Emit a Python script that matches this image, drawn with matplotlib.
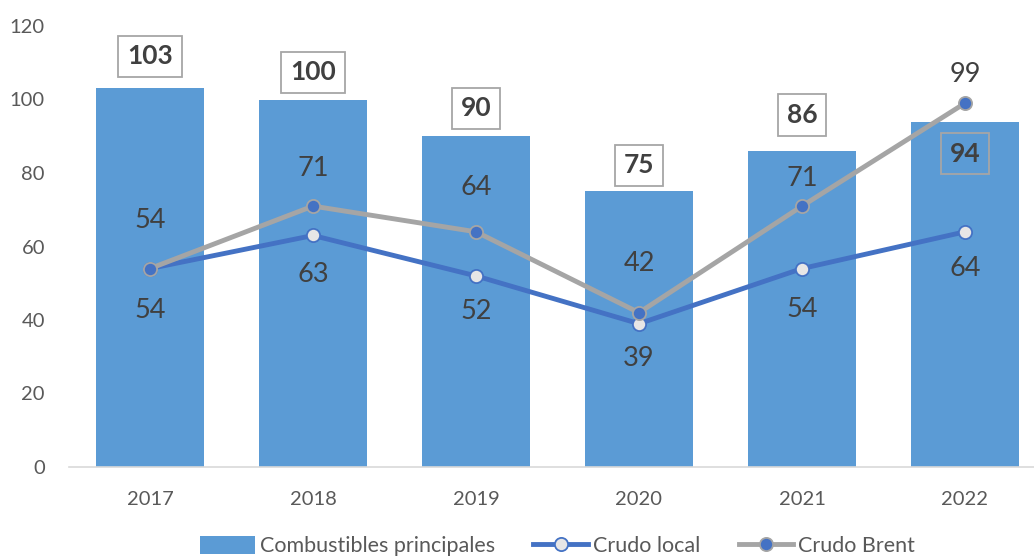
"""
Combustibles principales vs crudo local y Brent, 2017-2022.
"""

import matplotlib.pyplot as plt
import numpy as np

# --- Data ---
YEARS = ["2017", "2018", "2019", "2020", "2021", "2022"]
COMBUSTIBLES = [103, 100, 90, 75, 86, 94]
CRUDO_LOCAL = [54, 63, 52, 39, 54, 64]
CRUDO_BRENT = [54, 71, 64, 42, 71, 99]

# label offsets in pixels (positive = above the point)
BAR_LABEL_OFFSET = [32, 27, 28, 26, 36, -32]
BRENT_LABEL_OFFSET = [48, 38, 44, 49, 28, 29]
LOCAL_LABEL_OFFSET = [-42, -39, -36, -35, -41, -37]

# --- Style ---
BAR_COLOR = "#5B9BD5"
LOCAL_COLOR = "#4472C4"
BRENT_COLOR = "#A5A5A5"
TEXT_COLOR = "#404040"
TICK_COLOR = "#595959"

plt.rcParams['font.family'] = ['Lato', 'DejaVu Sans']

W, H = 1034, 558
fig = plt.figure(figsize=(W / 100, H / 100), dpi=100)
ax = fig.add_axes([68.5 / W, (H - 467) / H, 978 / W, 441 / H])

x = np.arange(len(YEARS))
px = 72 / 100  # pixels -> points

bars = ax.bar(x, COMBUSTIBLES, width=0.66, color=BAR_COLOR, label="Combustibles principales", zorder=1)
local_line, = ax.plot(x, CRUDO_LOCAL, color=LOCAL_COLOR, linewidth=3.5, marker='o', markersize=9.5,
                      markerfacecolor="#E7E6E6", markeredgecolor=LOCAL_COLOR, markeredgewidth=1.3,
                      label="Crudo local", zorder=3)
brent_line, = ax.plot(x, CRUDO_BRENT, color=BRENT_COLOR, linewidth=3.5, marker='o', markersize=9.5,
                      markerfacecolor=LOCAL_COLOR, markeredgecolor=BRENT_COLOR, markeredgewidth=1.3,
                      label="Crudo Brent", zorder=4)

# bar labels in boxes
for xi, v, off in zip(x, COMBUSTIBLES, BAR_LABEL_OFFSET):
    ax.annotate(f"{v}", (xi, v), xytext=(0, off * px), textcoords='offset points',
                ha='center', va='center', fontsize=19, fontweight='bold', color=TEXT_COLOR,
                bbox=dict(boxstyle='square,pad=0.33', facecolor='none', edgecolor='#A6A6A6', linewidth=1.3),
                zorder=5)

for xi, v, off in zip(x, CRUDO_BRENT, BRENT_LABEL_OFFSET):
    ax.annotate(f"{v}", (xi, v), xytext=(0, off * px), textcoords='offset points',
                ha='center', va='center', fontsize=19.5, color=TEXT_COLOR, zorder=5)

for xi, v, off in zip(x, CRUDO_LOCAL, LOCAL_LABEL_OFFSET):
    ax.annotate(f"{v}", (xi, v), xytext=(0, off * px), textcoords='offset points',
                ha='center', va='center', fontsize=19.5, color=TEXT_COLOR, zorder=5)

ax.set_xlim(-0.5, len(YEARS) - 0.5)
ax.set_ylim(0, 120)
ax.set_yticks(range(0, 121, 20))
ax.set_xticks(x)
ax.set_xticklabels(YEARS)
ax.tick_params(axis='both', length=0, labelsize=14.5, labelcolor=TICK_COLOR)
ax.tick_params(axis='y', pad=17)
ax.tick_params(axis='x', pad=17)

for side in ['left', 'right', 'top']:
    ax.spines[side].set_visible(False)
ax.spines['bottom'].set_color('#D9D9D9')
ax.spines['bottom'].set_linewidth(1.2)

leg = ax.legend([bars, local_line, brent_line],
                ["Combustibles principales", "Crudo local", "Crudo Brent"],
                loc='center', bbox_to_anchor=(0.5, -0.180), ncol=3, frameon=False,
                fontsize=15.5, handlelength=2.55, handleheight=0.85, columnspacing=1.8,
                handletextpad=0.2, labelcolor=TICK_COLOR)

fig.savefig("out.png", dpi=100)
